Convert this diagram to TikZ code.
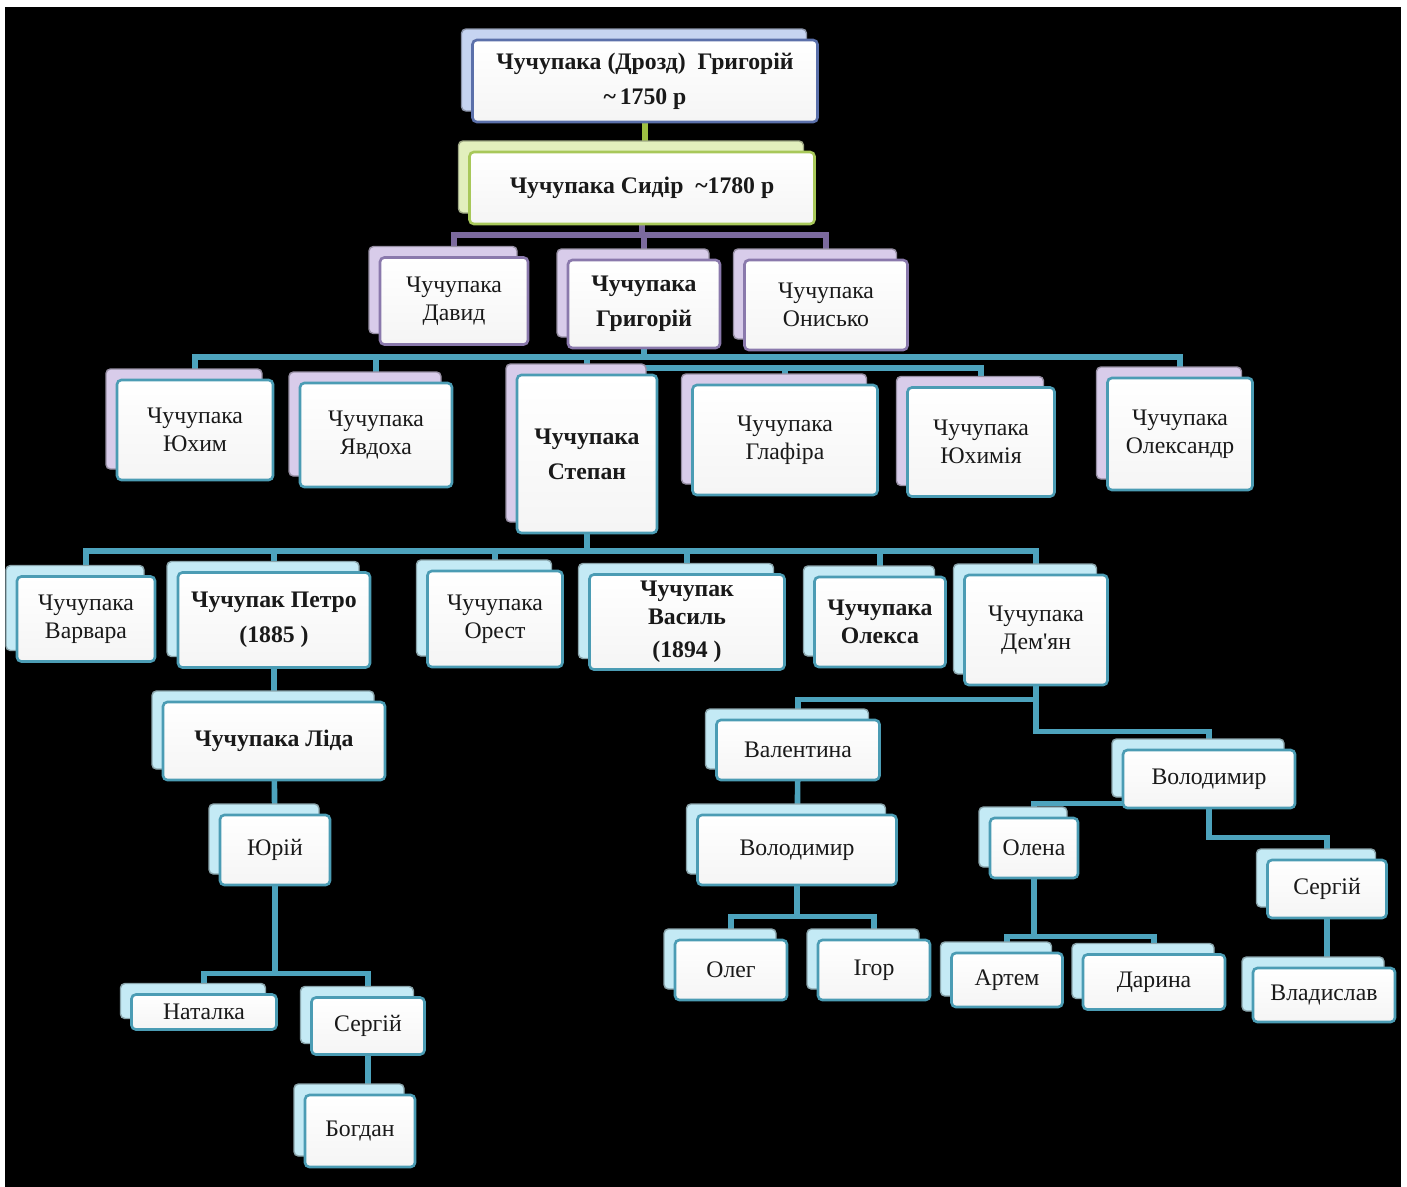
\documentclass[tikz,border=0pt]{standalone}
\usepackage{fontspec}
\setmainfont{Liberation Serif}
\usepackage{tikz}
\usetikzlibrary{shadows,backgrounds}

\definecolor{blueframe}{HTML}{5B70AA}
\definecolor{blueback}{HTML}{C6D4F1}
\definecolor{greenframe}{HTML}{A8C85A}
\definecolor{greenback}{HTML}{E2EFBD}
\definecolor{violetframe}{HTML}{8A79AC}
\definecolor{violetback}{HTML}{D8CCEA}
\definecolor{tealframe}{HTML}{4B9CB4}
\definecolor{cyanback}{HTML}{C4EAF5}
\definecolor{tealline}{HTML}{4DA3BD}
\definecolor{violetline}{HTML}{7C6A9E}
\definecolor{greenline}{HTML}{9EBF42}

\newlength\pxu \setlength\pxu{0.02cm}

\tikzset{
  fam/.style={draw, rounded corners=2.5pt, line width=1.5pt, top color=white, bottom color=black!4,
    text=black!90, align=center, inner sep=0pt, font=\fontsize{13.5}{16}\selectfont},
  bold/.style={font=\fontsize{13.5}{16}\selectfont\bfseries},
  back/.style={general shadow={fill=#1, draw=#1!70!black, line width=0.8pt,
    shadow xshift=-11\pxu, shadow yshift=11\pxu}},
  sz/.style 2 args={minimum width=#1\pxu, minimum height=#2\pxu},
  bluebox/.style={fam, draw=blueframe, back=blueback},
  greenbox/.style={fam, draw=greenframe, back=greenback},
  violetbox/.style={fam, draw=violetframe, back=violetback},
  lavbox/.style={fam, draw=tealframe, back=violetback},
  cyanbox/.style={fam, draw=tealframe, back=cyanback},
  conn/.style={line width=3.2pt, line cap=rect, draw=tealline},
  vconn/.style={conn, draw=violetline},
  gconn/.style={conn, draw=greenline}
}

\begin{document}
\begin{tikzpicture}[x=0.02cm,y=-0.02cm]
  \useasboundingbox (0,0) rectangle (1407,1187);
  \node[bluebox, bold, sz={345}{82}] (root) at (645,81) {Чучупака (Дрозд)\ \ Григорій\\[4pt]\textasciitilde\,1750 р};
  \node[greenbox, bold, sz={345}{72}] (sydir) at (642,188) {Чучупака Сидір\ \ \textasciitilde1780 р};

  \node[violetbox, sz={148}{87}] (david) at (454,301) {Чучупака\\Давид};
  \node[violetbox, bold, sz={152}{88}] (grig) at (644,304) {Чучупака\\[4pt]Григорій};
  \node[violetbox, sz={163}{90}] (onysko) at (826,305) {Чучупака\\Онисько};

  \node[lavbox, sz={156}{100}] (yukhym) at (195,430) {Чучупака\\Юхим};
  \node[lavbox, sz={152}{104}] (yavdokha) at (376,435) {Чучупака\\Явдоха};
  \node[lavbox, bold, sz={140}{158}] (stepan) at (587,454) {Чучупака\\[4pt]Степан};
  \node[lavbox, sz={185}{110}] (hlafira) at (785,440) {Чучупака\\Глафіра};
  \node[lavbox, sz={147}{109}] (yukhymiya) at (981,442) {Чучупака\\Юхимія};
  \node[lavbox, sz={145}{112}] (oleksandr) at (1180,434) {Чучупака\\Олександр};

  \node[cyanbox, sz={138}{85}] (varvara) at (86,619) {Чучупака\\Варвара};
  \node[cyanbox, bold, sz={192}{95}] (petro) at (274,620) {Чучупак Петро\\[4pt](1885 )};
  \node[cyanbox, sz={135}{96}] (orest) at (495,619) {Чучупака\\Орест};
  \node[cyanbox, bold, sz={195}{95}] (vasyl) at (687,622) {Чучупак\\Василь\\[3pt](1894 )};
  \node[cyanbox, bold, sz={131}{90}] (oleksa) at (880,622) {Чучупака\\Олекса};
  \node[cyanbox, sz={143}{110}] (demyan) at (1036,630) {Чучупака\\Дем\textquotesingle ян};

  \node[cyanbox, bold, sz={222}{78}] (lida) at (274,741) {Чучупака Ліда};
  \node[cyanbox, sz={110}{70}] (yuriy) at (275,850) {Юрій};
  \node[cyanbox, sz={145}{35}] (natalka) at (204,1012) {Наталка};
  \node[cyanbox, sz={113}{57}] (sergiyl) at (368,1026) {Сергій};
  \node[cyanbox, sz={110}{72}] (bohdan) at (360,1131) {Богдан};

  \node[cyanbox, sz={163}{60}] (valentyna) at (798,750) {Валентина};
  \node[cyanbox, sz={199}{70}] (volodymyrl) at (797,850) {Володимир};
  \node[cyanbox, sz={112}{60}] (oleh) at (731,970) {Олег};
  \node[cyanbox, sz={112}{60}] (ihor) at (874,970) {Ігор};
  \node[cyanbox, sz={172}{58}] (volodymyrr) at (1209,779) {Володимир};
  \node[cyanbox, sz={88}{60}] (olena) at (1034,848) {Олена};
  \node[cyanbox, sz={111}{54}] (artem) at (1007,980) {Артем};
  \node[cyanbox, sz={142}{55}] (daryna) at (1154,982) {Дарина};
  \node[cyanbox, sz={119}{58}] (sergiyr) at (1327,889) {Сергій};
  \node[cyanbox, sz={142}{54}] (vladyslav) at (1324,995) {Владислав};

  \coordinate (dbus) at (0,235);
  \coordinate (gbus) at (0,357);
  \coordinate (gbustwo) at (0,368);
  \coordinate (sbus) at (0,551);

  \begin{scope}[on background layer]
    \fill[black] (5,7) rectangle (1401,1187);
    \draw[gconn] (root.south) -- (root.south |- sydir.north);

    \draw[vconn] (sydir.south) -- (sydir.south |- dbus);
    \draw[vconn] (david.north |- dbus) -- (onysko.north |- dbus);
    \foreach \n in {david,grig,onysko}
      \draw[vconn] (\n.north) -- (\n.north |- dbus);

    \draw[conn] (grig.south) -- (grig.south |- gbus);
    \draw[conn] (yukhym.north |- gbus) -- (oleksandr.north |- gbus);
    \draw[conn] (stepan.north |- gbus) -- (stepan.north |- gbustwo) -- (yukhymiya.north |- gbustwo);
    \foreach \n in {yukhym,yavdokha,stepan,oleksandr}
      \draw[conn] (\n.north) -- (\n.north |- gbus);
    \foreach \n in {hlafira,yukhymiya}
      \draw[conn] (\n.north) -- (\n.north |- gbustwo);

    \draw[conn] (stepan.south) -- (stepan.south |- sbus);
    \draw[conn] (varvara.north |- sbus) -- (demyan.north |- sbus);
    \foreach \n in {varvara,petro,orest,vasyl,oleksa,demyan}
      \draw[conn] (\n.north) -- (\n.north |- sbus);

    \draw[conn] (petro) -- (lida);
    \draw[conn] (lida) -- (yuriy);
    \draw[conn] (yuriy.south) -- ++(0,87) coordinate (ybus);
    \draw[conn] (natalka.north) -- (natalka.north |- ybus) -| (sergiyl.north);
    \draw[conn] (sergiyl.south) -- (sergiyl.south |- bohdan.north);

    \draw[conn] (demyan.south) -- ++(0,13) -| (valentyna.north);
    \draw[conn] (demyan.south) -- ++(0,45) -| (volodymyrr.north);
    \draw[conn] (valentyna) -- (volodymyrl);
    \draw[conn] (volodymyrl.south) -- ++(0,30) -| (oleh.north);
    \draw[conn] (volodymyrl.south) -- ++(0,30) -| (ihor.north);
    \draw[conn] ([yshift=6\pxu]volodymyrr.south west) -| (olena.north);
    \draw[conn] (volodymyrr.south) -- ++(0,28) -| (sergiyr.north);
    \draw[conn] (olena.south) -- ++(0,57) -| (artem.north);
    \draw[conn] (olena.south) -- ++(0,57) -| (daryna.north);
    \draw[conn] (sergiyr.south) -- (sergiyr.south |- vladyslav.north);
  \end{scope}
\end{tikzpicture}
\end{document}
